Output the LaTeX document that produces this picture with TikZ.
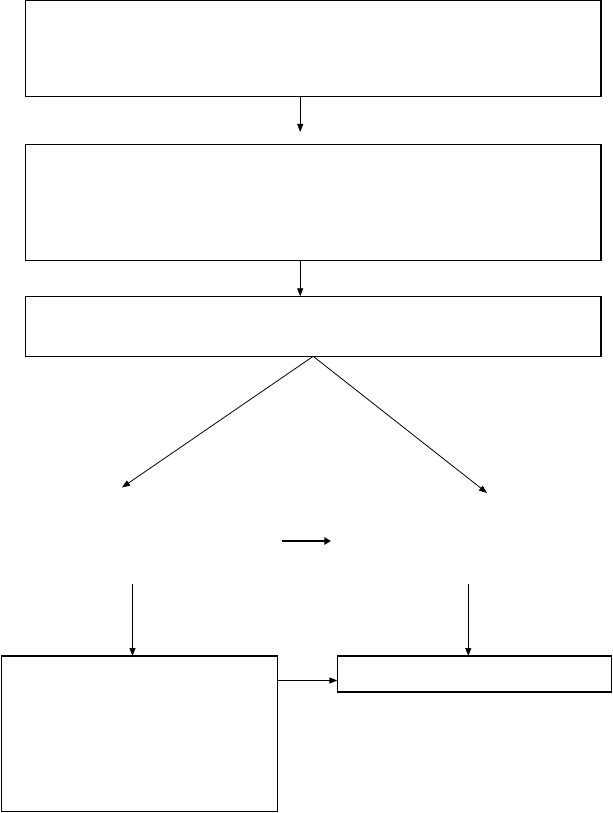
\documentclass[tikz,border=0pt]{standalone}
\usetikzlibrary{arrows.meta,calc}
\begin{document}
\begin{tikzpicture}[x=0.75pt,y=-0.75pt,
  box/.style={draw=black,line width=0.8pt,rectangle,inner sep=0pt,outer sep=0pt,anchor=north west},
  conn/.style={draw=black,line width=0.6pt,-{Triangle[length=6pt,width=4.5pt]}},
  thickconn/.style={draw=black,line width=1.6pt,-{Triangle[length=5pt,width=5.5pt]}}]
\useasboundingbox (0,0) rectangle (613,813);
% boxes
\node[box,minimum width=575.6*0.75pt,minimum height=96*0.75pt] (b1) at (25.4,0.6) {};
\node[box,minimum width=575.6*0.75pt,minimum height=116*0.75pt] (b2) at (25.4,144.3) {};
\node[box,minimum width=575.6*0.75pt,minimum height=60*0.75pt] (b3) at (25.4,296.3) {};
\node[box,minimum width=276.6*0.75pt,minimum height=155.5*0.75pt] (b4) at (1.2,656) {};
\node[box,minimum width=274.4*0.75pt,minimum height=36*0.75pt] (b5) at (337.4,656) {};
% coordinates
\coordinate (a1) at (300.2,0);
\coordinate (e1) at (300.2,132);
\coordinate (a2) at (300.2,0);
\coordinate (dl) at (122,487.5);
\coordinate (dr) at (487,493);
\coordinate (tl) at (281.5,541);
\coordinate (tr) at (331,541);
\coordinate (vl) at (132.5,584);
\coordinate (vr) at (468.3,584);
% connectors
\draw[conn] (a1 |- b1.south) -- (e1);
\draw[conn] (a2 |- b2.south) -- (a2 |- b3.north);
\draw[conn] (b3.south) -- (dl);
\draw[conn] (b3.south) -- (dr);
\draw[thickconn] (tl) -- (tr);
\draw[conn] (vl) -- (vl |- b4.north);
\draw[conn] (vr) -- (vr |- b5.north);
\draw[conn] (b4.east |- 0,680.5) -- (b5.west |- 0,680.5);
\end{tikzpicture}
\end{document}
